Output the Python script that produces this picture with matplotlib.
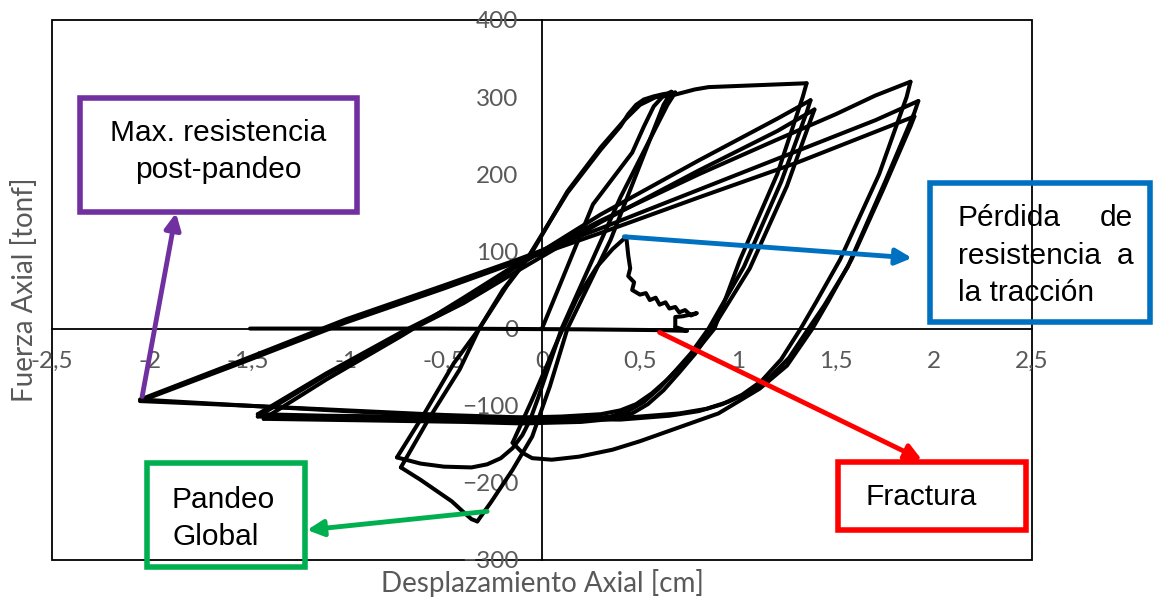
import numpy as np
import matplotlib.pyplot as plt
from matplotlib.patches import Rectangle

# Axial force vs axial displacement of a brace (hysteresis loops)
# each branch = one loading / unloading half cycle

# initial tension to first peak
b0_x = [0.00, 0.26, 0.46, 0.52, 0.57, 0.62, 0.66]
b0_y = [0, 161, 228, 262, 288, 302, 307]
# unload, global buckling
b1_x = [0.66, 0.62, 0.35, 0.13, 0.04, -0.05, -0.15, -0.26, -0.33]
b1_y = [307, 290, 115, 0, -75, -140, -183, -225, -250]
# post-buckling drop
b2_x = [-0.33, -0.36, -0.40, -0.46, -0.54, -0.62, -0.72]
b2_y = [-250, -247, -238, -224, -210, -196, -180]
# reload to first peak again
b3_x = [-0.72, -0.58, -0.42, -0.32, -0.20, -0.08, 0.13, 0.30, 0.40, 0.44, 0.48, 0.52, 0.57, 0.62, 0.68]
b3_y = [-180, -118, -53, 0, 50, 89, 176, 232, 262, 278, 290, 297, 301, 304, 306]
# unload with rounded bottom
b4_x = [0.68, 0.64, 0.40, 0.10, -0.02, -0.06, -0.10, -0.15, -0.21, -0.28, -0.36, -0.50, -0.62, -0.74]
b4_y = [306, 290, 170, 0, -90, -118, -138, -155, -168, -176, -180, -179, -175, -167]
# reload up to 1.35 cm
b5_x = [-0.74, -0.60, -0.45, -0.32, -0.18, -0.06, 0.13, 0.30, 0.42, 0.50, 0.58, 0.66, 0.72, 0.78, 0.85, 1.05, 1.25, 1.35]
b5_y = [-167, -110, -45, 0, 55, 95, 178, 235, 270, 290, 300, 302, 306, 310, 313, 315, 317, 318]
b6_x = [1.35, 1.33, 1.20, 1.01, 0.88, 0.80, 0.72, 0.64, 0.56, 0.48, 0.40, 0.30, 0.10, -0.20, -0.70, -1.10, -1.45]
b6_y = [318, 300, 200, 89, 0, -25, -45, -66, -84, -98, -106, -111, -114, -116, -114, -113, -111]
b7_x = [-1.45, -1.10, -0.72, -0.40, -0.13, 0.30, 0.80, 1.20, 1.37]
b7_y = [-111, -58, -5, 36, 80, 148, 218, 272, 296]
b8_x = [1.37, 1.35, 1.22, 1.03, 0.85, 0.76, 0.68, 0.60, 0.52, 0.44, 0.35, 0.20, -0.10, -0.40, -0.90, -1.45]
b8_y = [296, 280, 190, 80, 0, -32, -55, -77, -95, -107, -114, -118, -119, -118, -116, -114]
b9_x = [-1.45, -1.10, -0.72, -0.40, -0.13, 0.30, 0.80, 1.20, 1.39]
b9_y = [-114, -60, -8, 33, 74, 138, 205, 256, 284]
b10_x = [1.39, 1.37, 1.25, 1.06, 0.87, 0.78, 0.70, 0.62, 0.54, 0.46, 0.36, 0.20, -0.10, -0.40, -0.90, -1.42]
b10_y = [284, 270, 185, 78, 0, -33, -57, -80, -98, -110, -117, -121, -123, -121, -119, -117]
# cycles up to 1.9 cm
b11_x = [-1.42, -1.10, -0.72, -0.40, -0.10, 0.30, 0.80, 1.20, 1.50, 1.70, 1.88]
b11_y = [-117, -66, -10, 40, 88, 140, 200, 245, 278, 302, 320]
b12_x = [1.88, 1.86, 1.72, 1.52, 1.40, 1.32, 1.22, 1.12, 1.02, 0.92, 0.80, 0.65, 0.40, 0.00, -0.50, -1.00, -1.50, -2.05]
b12_y = [320, 300, 200, 89, 35, 0, -40, -68, -86, -98, -107, -113, -118, -117, -113, -107, -100, -92]
b13_x = [-2.05, -1.54, -1.00, -0.50, -0.13, 0.30, 0.80, 1.30, 1.70, 1.92]
b13_y = [-92, -42, 12, 56, 89, 130, 180, 230, 270, 295]
b14_x = [1.92, 1.90, 1.75, 1.56, 1.44, 1.36, 1.26, 1.16, 1.06, 0.95, 0.84, 0.70, 0.40, 0.00, -0.50, -1.00, -1.50, -2.05]
b14_y = [295, 280, 190, 80, 30, 0, -38, -64, -82, -95, -104, -110, -116, -116, -112, -106, -100, -94]
b15_x = [-2.05, -1.54, -1.00, -0.50, -0.13, 0.30, 0.80, 1.30, 1.70, 1.90]
b15_y = [-94, -45, 8, 52, 86, 124, 170, 215, 255, 275]
b16_x = [1.90, 1.88, 1.74, 1.58, 1.46, 1.38, 1.25, 1.11, 0.90, 0.70, 0.50, 0.36, 0.19, 0.05, -0.05, -0.10, -0.15]
b16_y = [275, 262, 180, 90, 35, 0, -48, -78, -110, -128, -146, -157, -166, -170, -168, -161, -148]
# last reload, loss of tensile strength and fracture
b17_x = [-0.15, -0.05, 0.08, 0.18, 0.28, 0.36, 0.43]
b17_y = [-148, -92, -15, 40, 80, 103, 119]
b18_x = [0.43, 0.44, 0.45, 0.44, 0.47, 0.46, 0.50, 0.53, 0.55, 0.58, 0.60, 0.63, 0.65, 0.68, 0.70, 0.73, 0.76, 0.79, 0.72, 0.68, 0.68]
b18_y = [119, 95, 78, 68, 60, 50, 44, 46, 37, 40, 31, 34, 26, 28, 21, 24, 17, 20, 16, 15, 2]
b19_x = [0.68, 0.74, 0.60, 0.20, -0.50, -1.49]
b19_y = [2, -3, -2, -1, 0, 0]

branches = [(b0_x, b0_y), (b1_x, b1_y), (b2_x, b2_y), (b3_x, b3_y), (b4_x, b4_y),
            (b5_x, b5_y), (b6_x, b6_y), (b7_x, b7_y), (b8_x, b8_y), (b9_x, b9_y),
            (b10_x, b10_y), (b11_x, b11_y), (b12_x, b12_y), (b13_x, b13_y),
            (b14_x, b14_y), (b15_x, b15_y), (b16_x, b16_y), (b17_x, b17_y),
            (b18_x, b18_y), (b19_x, b19_y)]

x_ticks = [-2.5, -2, -1.5, -1, -0.5, 0, 0.5, 1, 1.5, 2, 2.5]
x_tick_labels = ["-2,5", "-2", "-1,5", "-1", "-0,5", "0", "0,5", "1", "1,5", "2", "2,5"]
y_ticks = [-300, -200, -100, 0, 100, 200, 300, 400]

W, H = 1154, 602


def px(x, y):
    # pixel position -> figure fraction
    return (x / W, 1 - y / H)


fig = plt.figure(figsize=(W / 100, H / 100), dpi=100)
ax = fig.add_axes([52 / W, 1 - 560 / H, 980 / W, 540 / H])

for bx, by in branches:
    ax.plot(bx, by, color="black", lw=2.9, solid_joinstyle="round", solid_capstyle="round", zorder=3)

ax.set_xlim(-2.5, 2.5)
ax.set_ylim(-300, 400)
ax.spines["left"].set_position(("data", 0))
ax.spines["bottom"].set_position(("data", 0))
ax.spines["right"].set_visible(False)
ax.spines["top"].set_visible(False)
for s in ("left", "bottom"):
    ax.spines[s].set_linewidth(1.3)
ax.add_patch(Rectangle((0, 0), 1, 1, transform=ax.transAxes, fill=False,
                       lw=1.3, ec="black", clip_on=False, zorder=1))

ax.set_xticks(x_ticks)
ax.set_xticklabels(x_tick_labels)
ax.set_yticks(y_ticks)
tick_font = "Lato"
ax.tick_params(axis="both", length=0, labelsize=17.5, labelcolor="#595959")
ax.tick_params(axis="x", pad=16)
ax.tick_params(axis="y", pad=17)
for lab in ax.get_xticklabels() + ax.get_yticklabels():
    lab.set_fontfamily(tick_font)

fig.text(*px(542, 583), "Desplazamiento Axial [cm]", ha="center", va="center",
         fontsize=20, color="#595959", family=tick_font)
fig.text(*px(25, 290), "Fuerza Axial [tonf]", ha="center", va="center", rotation=90,
         fontsize=20, color="#595959", family=tick_font)

# annotation boxes
note_font = "Liberation Sans"
boxes = [
    ((80, 98, 357, 212), "#7030A0"),
    ((147, 463, 305, 567), "#00B050"),
    ((930, 183, 1150, 322), "#0070C0"),
    ((838, 462, 1026, 530), "#FF0000"),
]
for (x0, y0, x1, y1), c in boxes:
    fig.patches.append(Rectangle(px(x0, y1), (x1 - x0) / W, (y1 - y0) / H,
                                 transform=fig.transFigure, fill=False, ec=c, lw=4))

fs = 21.5
fig.text(*px(218, 133), "Max. resistencia", ha="center", va="center", fontsize=fs, family=note_font)
fig.text(*px(218, 170), "post-pandeo", ha="center", va="center", fontsize=fs, family=note_font)
fig.text(*px(172, 500), "Pandeo", ha="left", va="center", fontsize=fs, family=note_font)
fig.text(*px(172, 537), "Global", ha="left", va="center", fontsize=fs, family=note_font)
fig.text(*px(958, 218), "Pérdida", ha="left", va="center", fontsize=fs, family=note_font)
fig.text(*px(1133, 218), "de", ha="right", va="center", fontsize=fs, family=note_font)
fig.text(*px(958, 256), "resistencia", ha="left", va="center", fontsize=fs, family=note_font)
fig.text(*px(1133, 256), "a", ha="right", va="center", fontsize=fs, family=note_font)
fig.text(*px(958, 293), "la tracción", ha="left", va="center", fontsize=fs, family=note_font)
fig.text(*px(865, 497), "Fractura", ha="left", va="center", fontsize=fs, family=note_font)

# arrows: tail on the curve (data), head on the box (pixels)
arrows = [
    ((-2.04, -88), (176, 213), "#7030A0"),
    ((-0.28, -237), (307, 530), "#00B050"),
    ((0.42, 119), (912, 258), "#0070C0"),
    ((0.60, -5), (922, 460), "#FF0000"),
]
for tail, head, c in arrows:
    ax.annotate("", xy=px(*head), xycoords="figure fraction", xytext=tail, textcoords="data",
                arrowprops=dict(arrowstyle="-|>", color=c, lw=3.5, mutation_scale=24,
                                shrinkA=0, shrinkB=0), zorder=5)

fig.savefig("out.png", dpi=100)
